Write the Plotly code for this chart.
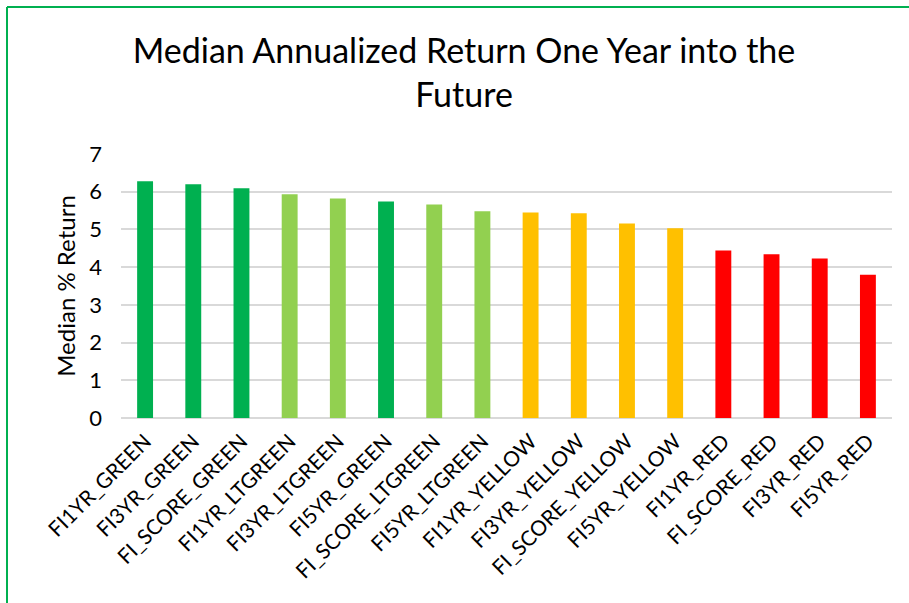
import plotly.graph_objects as go

categories = ['FI1YR_GREEN', 'FI3YR_GREEN', 'FI_SCORE_GREEN', 'FI1YR_LTGREEN',
              'FI3YR_LTGREEN', 'FI5YR_GREEN', 'FI_SCORE_LTGREEN', 'FI5YR_LTGREEN',
              'FI1YR_YELLOW', 'FI3YR_YELLOW', 'FI_SCORE_YELLOW', 'FI5YR_YELLOW',
              'FI1YR_RED', 'FI_SCORE_RED', 'FI3YR_RED', 'FI5YR_RED']
median_return = [6.28, 6.20, 6.09, 5.93, 5.82, 5.74, 5.66, 5.48,
                 5.45, 5.43, 5.16, 5.03, 4.44, 4.34, 4.23, 3.80]

# bar colour follows the signal group in the name
palette = {'GREEN': '#00B050', 'LTGREEN': '#92D050', 'YELLOW': '#FFC000', 'RED': '#FF0000'}
colors = [palette[c.split('_')[-1]] for c in categories]

FONT = 'Lato'
TEXT = '#000000'

W, H = 909, 603
L, R, T, B = 121, 17, 154, 185
pw, ph = W - L - R, H - T - B

fig = go.Figure(go.Bar(
    x=categories,
    y=median_return,
    marker=dict(color=colors, line=dict(width=0)),
))

fig.update_layout(
    width=W,
    height=H,
    title=dict(
        text='Median Annualized Return One Year into the<br>Future',
        x=464 / W,
        xanchor='center',
        y=1 - 63 / H,
        yanchor='middle',
        font=dict(family=FONT, size=34, color=TEXT),
    ),
    bargap=0.67,
    xaxis=dict(
        tickangle=-45,
        tickfont=dict(family=FONT, size=21, color=TEXT),
        ticklabelstandoff=6,
        showgrid=False,
        showline=False,
        ticks='',
    ),
    yaxis=dict(
        range=[0, 7],
        dtick=1,
        title=dict(text='Median % Return', font=dict(family=FONT, size=24, color=TEXT), standoff=6),
        tickfont=dict(family=FONT, size=22, color=TEXT),
        ticklabelstandoff=18,
        showgrid=True,
        gridcolor='#D9D9D9',
        gridwidth=2,
        zeroline=True,
        zerolinecolor='#D9D9D9',
        zerolinewidth=2,
        ticks='',
    ),
    showlegend=False,
    margin=dict(l=L, r=R, t=T, b=B),
    paper_bgcolor='white',
    plot_bgcolor='white',
)

# green frame around the chart (left and top edges are visible in the crop)
x0 = (7 - L) / pw
y1 = 1 + (T - 7) / ph
fig.add_shape(type='line', xref='paper', yref='paper', x0=x0, x1=x0, y0=-2, y1=y1,
              line=dict(color='#00B050', width=2))
fig.add_shape(type='line', xref='paper', yref='paper', x0=x0, x1=2, y0=y1, y1=y1,
              line=dict(color='#00B050', width=2))

# drop the default page margin so the figure sits at the window's corner
fig.write_html('out.html', config={'displayModeBar': False},
               post_script="document.body.style.margin='0';")
